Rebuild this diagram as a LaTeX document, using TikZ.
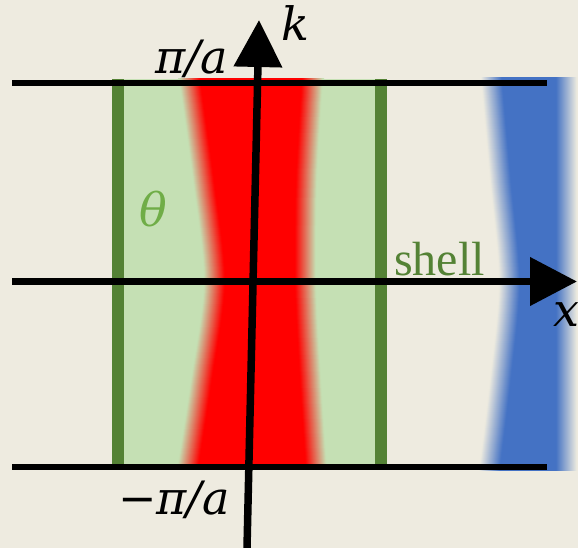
\documentclass[tikz,border=0pt]{standalone}
\usepackage{fontspec}
\setmainfont{Liberation Serif}
\newfontfamily\mathlike{DejaVu Serif}
\usetikzlibrary{arrows.meta}
\definecolor{bgc}{HTML}{EEEBE0}
\definecolor{lgreen}{HTML}{C5E0B4}
\definecolor{dgreen}{HTML}{548235}
\definecolor{mgreen}{HTML}{70AD47}
\definecolor{oblue}{HTML}{4472C4}
\tikzset{
  hline/.style={line width=6pt},
  axis/.style={line width=7.5pt,-{Triangle[length=47pt,width=47pt]}},
  bar/.style={fill=dgreen},
  lbl/.style={inner sep=0pt,anchor=base west},
  big/.style={font=\mathlike\fontsize{46}{55}\selectfont\itshape},
}
\begin{document}
\begin{tikzpicture}[x=1pt,y=-1pt]
\useasboundingbox (0,0) rectangle (578,548);
\fill[bgc] (0,0) rectangle (578,548);
% green region
\fill[lgreen] (112,79) rectangle (387,465);
% red blurred hourglass
\begin{scope}
\clip (124,79) rectangle (375,465);
\foreach \d in {11,10,...,-11}{
  \pgfmathsetmacro\p{max(0,min(100,50-\d*4.8))}
  \fill[red!\p!lgreen]
    ({189-\d},70) -- plot[smooth] coordinates {({189-\d},79) ({203-\d},180) ({214-\d},282) ({201-\d},380) ({187-\d},470)}
    -- ({187-\d},480) -- ({317+\d},480)
    -- plot[smooth] coordinates {({317+\d},470) ({311+\d},380) ({306+\d},282) ({307+\d},180) ({313+\d},79)}
    -- ({313+\d},70) -- cycle;
}
\end{scope}
% dark green bars
\fill[bar] (112,79) rectangle (124,465);
\fill[bar] (375,79) rectangle (387,465);
% blue blurred band
\begin{scope}
\clip (460,78) rectangle (578,470);
\foreach \d in {11,10,...,-11}{
  \pgfmathsetmacro\p{max(0,min(100,50-\d*4.8))}
  \fill[oblue!\p!bgc]
    ({491-\d},70) -- plot[smooth] coordinates {({491-\d},78) ({500-\d},180) ({509-\d},282) ({500-\d},380) ({489-\d},470)}
    -- ({489-\d},480) -- ({567+\d},480) -- ({567+\d},70) -- cycle;
}
\end{scope}
% horizontal lines
\coordinate (tl) at (12,83);
\coordinate (tr) at (547,83);
\coordinate (bl) at (12,467);
\coordinate (br) at (547,467);
\draw[hline] (tl) -- (tr);
\draw[hline] (bl) -- (br);
% axes
\coordinate (xs) at (12,281.5);
\coordinate (xe) at (577,281.5);
\coordinate (ks) at (247,548);
\coordinate (ke) at (259,20);
\draw[axis] (xs) -- (xe);
\draw[axis] (ks) -- (ke);
% labels
\node[lbl,big] (pia) at (155,74) {π/a};
\node[lbl,big] (mpia) at (118,514) {{\upshape −}π/a};
\node[lbl,big] (klbl) at (281,41) {k};
\node[lbl,big] (xlbl) at (553,326) {x};
\node[lbl,big,text=mgreen] (theta) at (139,226) {θ};
\node[lbl,font=\fontsize{48}{55}\selectfont,text=dgreen] (shell) at (394,275) {shell};
\end{tikzpicture}
\end{document}
